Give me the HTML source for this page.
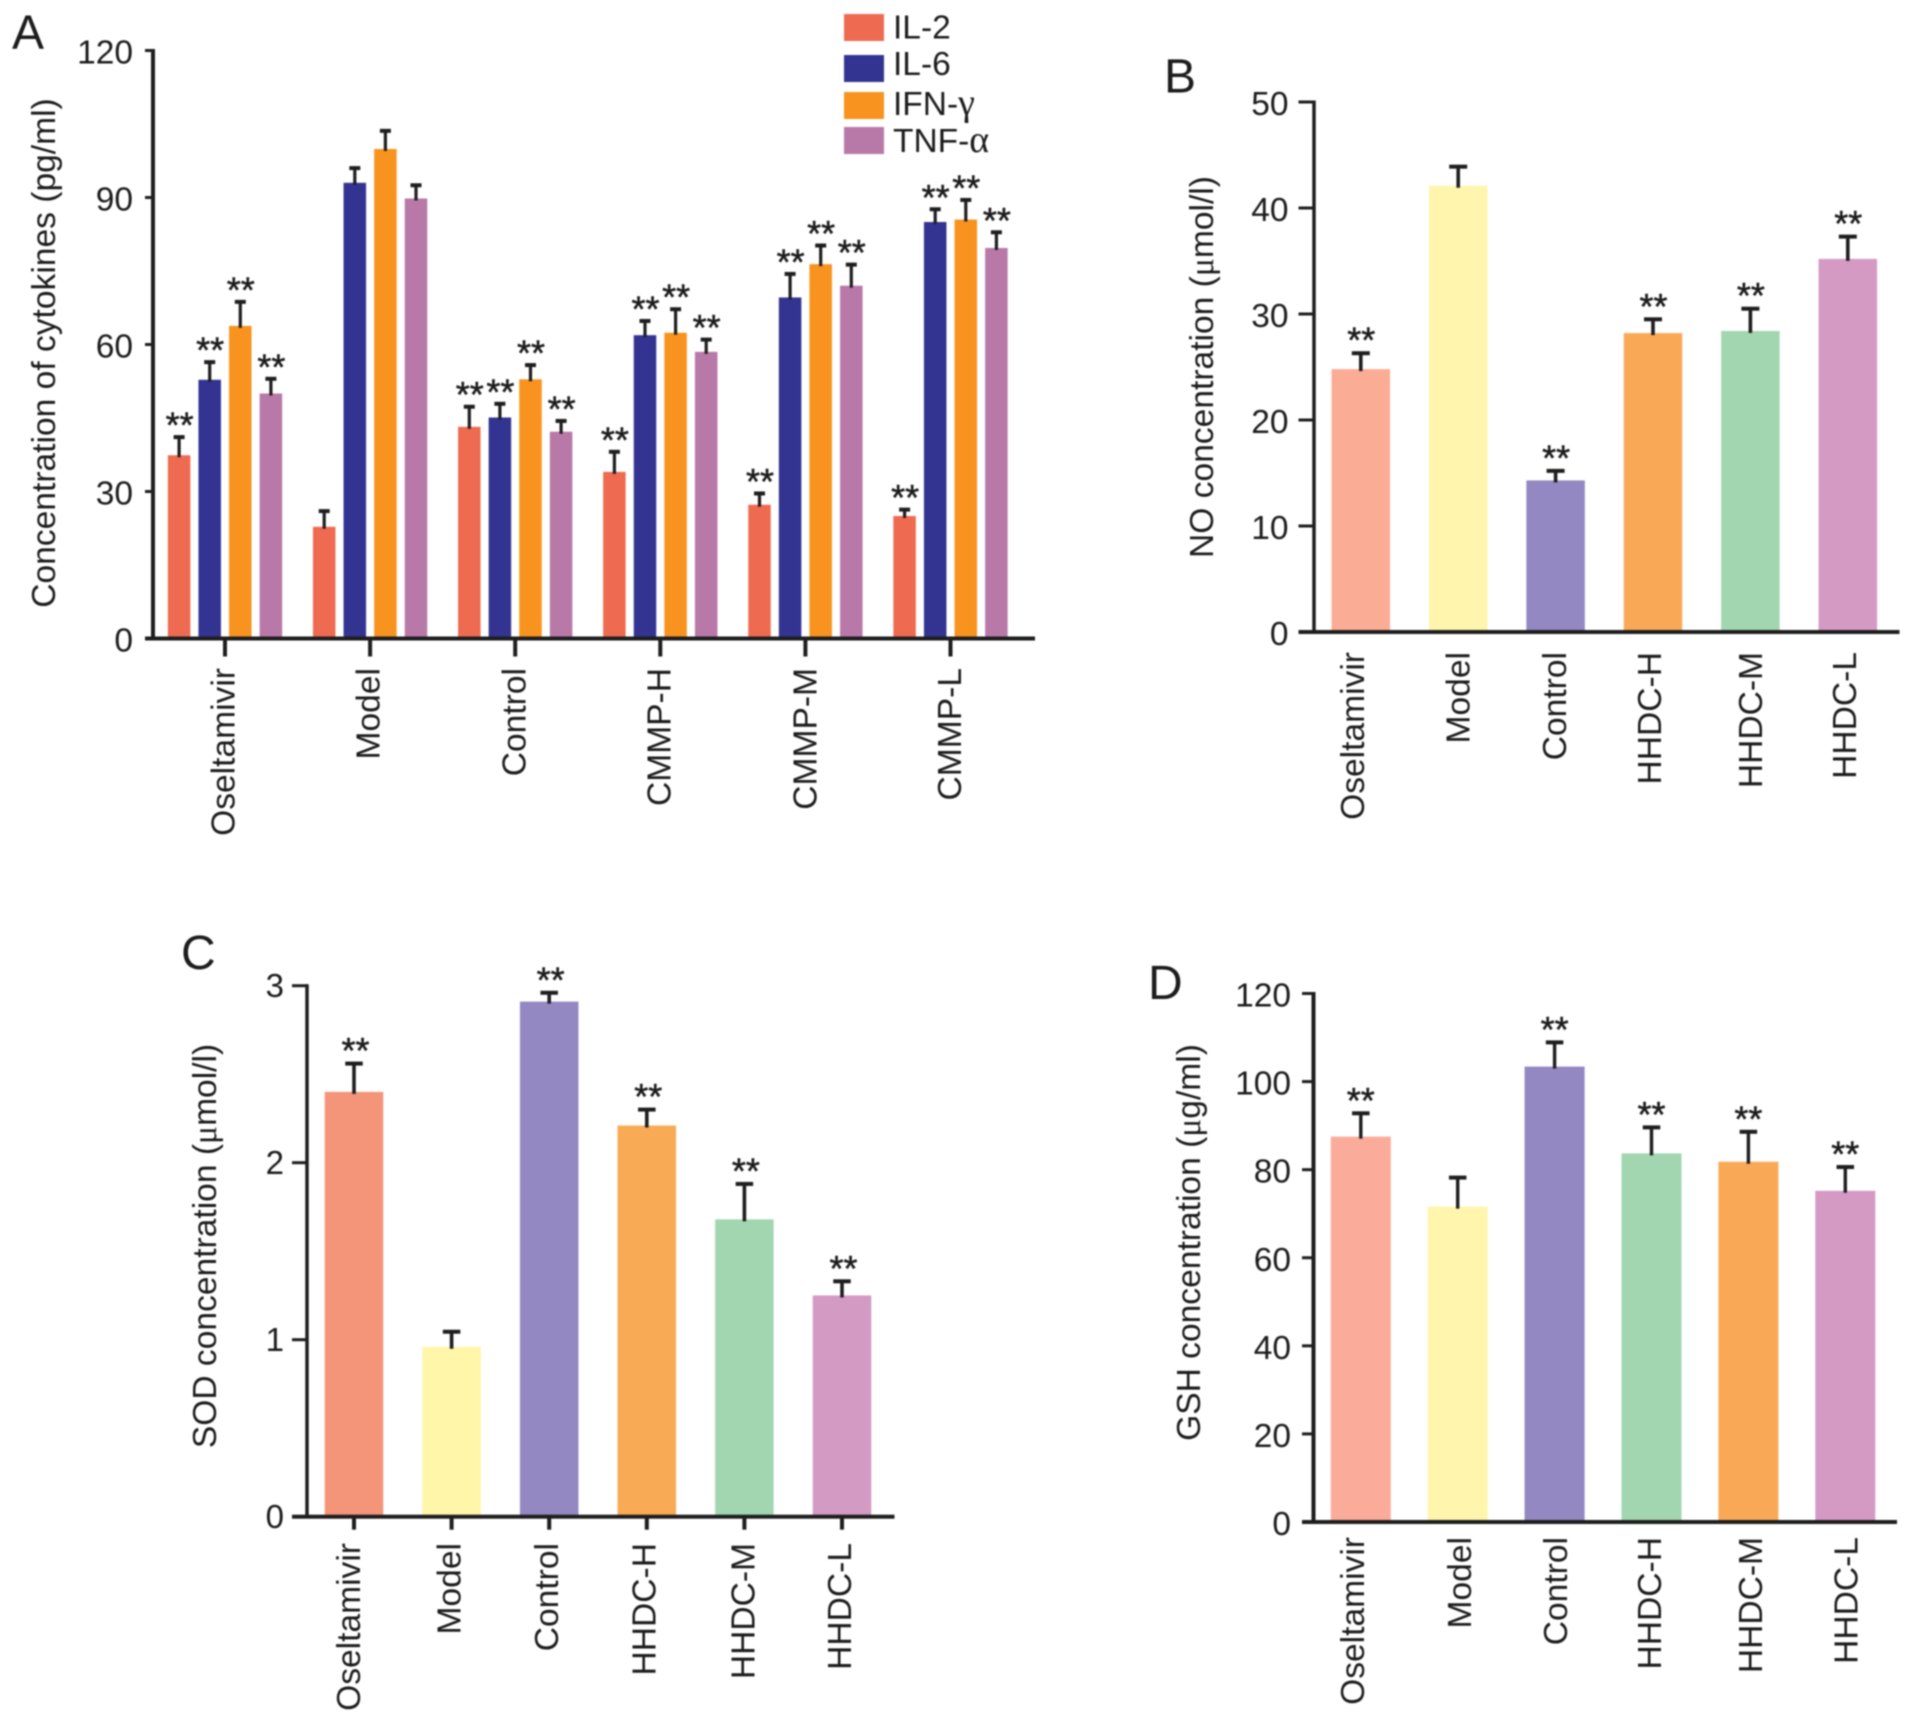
<!DOCTYPE html>
<html lang="en">
<head>
<meta charset="utf-8">
<title>Cytokine, NO, SOD and GSH concentrations</title>
<style>
html,body{margin:0;padding:0;background:#fff;width:1913px;height:1720px;overflow:hidden}
svg{display:block;filter:blur(0.8px)}
text{font-family:"Liberation Sans",sans-serif;fill:#1c1c1c}
.gr{font-family:"Liberation Serif",serif}
.lt{font-size:48px}
.ti{font-size:33.6px}
.lg{font-size:33.5px}
</style>
</head>
<body>
<svg id="figure" xmlns="http://www.w3.org/2000/svg" width="1913" height="1720" viewBox="0 0 1913 1720">
  <rect x="0" y="0" width="1913" height="1720" fill="#fff"/>
  <text class="lt" x="12" y="48.5">A</text>
  <text class="lt" x="1164" y="92.5">B</text>
  <text class="lt" x="181" y="969">C</text>
  <text class="lt" x="1148" y="999">D</text>

  <text class="ti" text-anchor="middle" transform="translate(55 353) rotate(-90)">Concentration of cytokines (pg/ml)</text>
  <text class="ti" text-anchor="middle" transform="translate(1213 367) rotate(-90)">NO concentration (<tspan class="gr">μ</tspan>mol/l)</text>
  <text class="ti" text-anchor="middle" transform="translate(216 1246) rotate(-90)">SOD concentration (<tspan class="gr">μ</tspan>mol/l)</text>
  <text class="ti" text-anchor="middle" transform="translate(1200 1242.5) rotate(-90)">GSH concentration (<tspan class="gr">μ</tspan>g/ml)</text>

  <g>
    <rect x="844" y="14" width="40" height="27" fill="#EE6A50"/>
    <text class="lg" x="893" y="38.5">IL-2</text>
    <rect x="844" y="55" width="40" height="27" fill="#333391"/>
    <text class="lg" x="893" y="75">IL-6</text>
    <rect x="844" y="92" width="40" height="27" fill="#F7931E"/>
    <text class="lg" x="893" y="115">IFN-<tspan class="gr" font-size="38">γ</tspan></text>
    <rect x="844" y="127" width="40" height="27" fill="#B878A8"/>
    <text class="lg" x="893" y="152">TNF-<tspan class="gr" font-size="38">α</tspan></text>
  </g>
  <g id="marks"></g>
</svg>
<script>
// Panel A
const aCategories = ['Oseltamivir','Model','Control','CMMP-H','CMMP-M','CMMP-L'];
const aSeriesNames = ['il2','il6','ifn','tnf'];
const aIl2 = [37.4,22.8,43.2,34,27.3,25];
const aIl2Err = [3.7,3.2,4.1,4.1,2.3,1.3];
const aIl6 = [52.8,93,45.1,61.9,69.6,85];
const aIl6Err = [3.6,3,2.8,2.9,4.8,2.6];
const aIfn = [63.8,99.9,52.9,62.4,76.4,85.5];
const aIfnErr = [4.9,3.7,2.9,4.8,3.8,4];
const aTnf = [50,89.8,42.2,58.5,72,79.7];
const aTnfErr = [3,2.7,2.2,2.5,4.3,3.2];
const aSignif = ['**','','**','**','**','**'];
const aTicks = [0,30,60,90,120];

// Panel B
const bCategories = ['Oseltamivir','Model','Control','HHDC-H','HHDC-M','HHDC-L'];
const bValues = [24.8,42.1,14.3,28.2,28.4,35.2];
const bErr = [1.5,1.8,0.9,1.3,2.1,2.1];
const bSignif = ['**','','**','**','**','**'];
const bTicks = [0,10,20,30,40,50];

// Panel C
const cCategories = ['Oseltamivir','Model','Control','HHDC-H','HHDC-M','HHDC-L'];
const cValues = [2.4,0.96,2.91,2.21,1.68,1.25];
const cErr = [0.16,0.085,0.05,0.09,0.2,0.08];
const cSignif = ['**','','**','**','**','**'];
const cTicks = [0,1,2,3];

// Panel D
const dCategories = ['Oseltamivir','Model','Control','HHDC-H','HHDC-M','HHDC-L'];
const dValues = [87.5,71.6,103.4,83.7,81.8,75.2];
const dErr = [5.3,6.6,5.5,5.9,6.8,5.4];
const dSignif = ['**','','**','**','**','**'];
const dTicks = [0,20,40,60,80,100,120];

const SVGNS = 'http://www.w3.org/2000/svg';
const root = document.getElementById('marks');
const INK = '#1e1e1e';

function make(tag, attrs, parent) {
  const n = document.createElementNS(SVGNS, tag);
  Object.keys(attrs).forEach(function (k) { n.setAttribute(k, attrs[k]); });
  parent.appendChild(n);
  return n;
}

function linearY(y0, yTop, max) {
  return function (v) { return y0 - v * (y0 - yTop) / max; };
}

function drawAxes(p, group, y) {
  const top = y(p.max);
  const yLine = make('rect', {x: p.axisX - p.axisW / 2, y: top - 1.5, width: p.axisW, height: p.y0 - top + 3, fill: INK}, group);
  
  
  const xLine = make('rect', {x: p.tickLeft, y: p.y0 - 2, width: p.axisEnd - p.tickLeft, height: 4, fill: INK}, group);
  
  
  p.ticks.forEach(function (t) {
    const ty = y(t);
    const tick = make('rect', {x: p.tickLeft, y: ty - 1.5, width: p.axisX - p.tickLeft, height: 3, fill: INK}, group);
    
    
    const lab = make('text', {x: p.tickLabelX, y: ty + p.tickLabelDy, 'text-anchor': 'end', 'font-size': p.tickFont}, group);
    lab.textContent = String(t);
    
    
  });
}

function drawBar(p, group, y, cx, width, value, err, color, star, label) {
  const top = y(value);
  const capY = y(value + err);
  const bar = make('rect', {x: cx - width / 2, y: top, width: width, height: p.y0 - top, fill: color}, group);
  
  
  const stem = make('rect', {x: cx - p.stemW / 2, y: capY, width: p.stemW, height: top - capY + 2, fill: INK}, group);
  
  
  const cap = make('rect', {x: cx - p.capW / 2, y: capY - 2, width: p.capW, height: 4, fill: INK}, group);
  
  
  if (star) {
    const s = make('text', {x: cx + p.starDx, y: capY - p.starGap + 19.5, 'text-anchor': 'middle', 'font-size': 36, stroke: '#1c1c1c', 'stroke-width': 0.5}, group);
    s.textContent = star;
    
    
  }
}

function drawCategoryLabels(p, group, centers, categories) {
  categories.forEach(function (c, i) {
    const bx = centers[i] + p.labelDx[i];
    const t = make('text', {'text-anchor': 'end', 'font-size': 33.6, transform: 'translate(' + bx + ' ' + p.labelTop + ') rotate(-90)'}, group);
    t.textContent = c;
    
    
    if (p.xTickLen) {
      const k = make('rect', {x: centers[i] - 2, y: p.y0, width: 4, height: p.xTickLen, fill: INK}, group);
      
      
    }
  });
}

function drawSimplePanel(p, categories, values, errs, signif) {
  const group = make('g', {}, root);
  
  
  const y = linearY(p.y0, p.yTop, p.max);
  const centers = categories.map(function (c, i) { return p.first + p.pitch * i; });
  categories.forEach(function (c, i) {
    drawBar(p, group, y, centers[i], p.barW, values[i], errs[i], p.colors[i], signif[i], c.toLowerCase());
  });
  drawAxes(p, group, y);
  drawCategoryLabels(p, group, centers, categories);
}

function drawGroupedPanel(p, categories, series, errs, colors, signif) {
  const group = make('g', {}, root);
  
  
  const y = linearY(p.y0, p.yTop, p.max);
  const centers = categories.map(function (c, i) { return p.first + p.pitch * i; });
  categories.forEach(function (c, i) {
    series.forEach(function (vals, s) {
      const cx = centers[i] + (s - (series.length - 1) / 2) * p.barPitch;
      drawBar(p, group, y, cx, p.barW, vals[i], errs[s][i], colors[s], signif[i], c.toLowerCase() + '-' + aSeriesNames[s]);
    });
  });
  drawAxes(p, group, y);
  drawCategoryLabels(p, group, centers, categories);
}

drawGroupedPanel(
  {id:'a', y0:638.5, yTop:50.5, max:120, ticks:aTicks, axisX:153, axisW:4, tickLeft:145, axisEnd:1035,
   tickLabelX:133, tickLabelDy:13, tickFont:33.5, first:225, pitch:145.1, barPitch:30.6, barW:22.5,
   stemW:3.2, capW:11, starDx:0.5, starGap:19, labelTop:668, xTickLen:18, labelDx:[9.5,9.5,10.5,10,11,10.5]},
  aCategories, [aIl2,aIl6,aIfn,aTnf], [aIl2Err,aIl6Err,aIfnErr,aTnfErr],
  ['#EE6A50','#333391','#F7931E','#B878A8'], aSignif);

drawSimplePanel(
  {id:'b', y0:632, yTop:102, max:50, ticks:bTicks, axisX:1314, axisW:3.5, tickLeft:1298.5, axisEnd:1899.5,
   tickLabelX:1288.5, tickLabelDy:13, tickFont:33.5, first:1360.8, pitch:97.4, barW:58.5,
   stemW:3.6, capW:18, starDx:0.5, starGap:20, labelTop:652, xTickLen:0, labelDx:[3,11.5,10.5,8,11.5,8],
   colors:['#FBAC94','#FFF5AC','#9388C1','#F9A956','#A2D6B0','#D59AC4']},
  bCategories, bValues, bErr, bSignif);

drawSimplePanel(
  {id:'c', y0:1516.7, yTop:985.7, max:3, ticks:cTicks, axisX:307, axisW:3.5, tickLeft:292, axisEnd:894.5,
   tickLabelX:284, tickLabelDy:11.5, tickFont:33, first:354, pitch:97.6, barW:58.5,
   stemW:3.6, capW:17.5, starDx:1.5, starGap:20, labelTop:1543, xTickLen:13, labelDx:[6,9,9,8.5,10,9],
   colors:['#F49478','#FFF6AA','#9488C2','#F9AA54','#A2D6B0','#D39AC4']},
  cCategories, cValues, cErr, cSignif);

drawSimplePanel(
  {id:'d', y0:1522, yTop:993.5, max:120, ticks:dTicks, axisX:1313.5, axisW:4, tickLeft:1302, axisEnd:1897,
   tickLabelX:1291, tickLabelDy:13, tickFont:33.5, first:1360.8, pitch:96.9, barW:60,
   stemW:3.4, capW:17.5, starDx:0, starGap:20, labelTop:1537, xTickLen:0, labelDx:[3,13.5,12.5,9.5,13.5,12],
   colors:['#FBAB99','#FFF5AC','#9388C1','#A2D6B0','#F9A956','#D59AC4']},
  dCategories, dValues, dErr, dSignif);
</script>
</body>
</html>
